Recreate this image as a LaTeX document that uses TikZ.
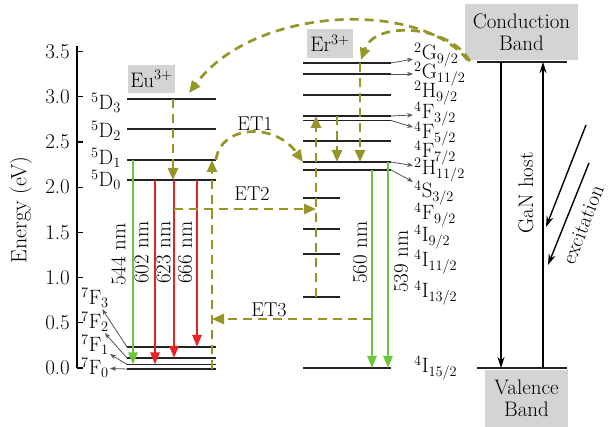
\documentclass[tikz,border=0pt]{standalone}
\usepackage{xcolor}
\usepackage{tikz}
\usetikzlibrary{arrows.meta}
\usetikzlibrary{positioning,calc}
\definecolor{levelblack}{RGB}{35,35,35}
\definecolor{bandgray}{RGB}{212,212,212}
\definecolor{emgreen}{RGB}{106,198,62}
\definecolor{emred}{RGB}{230,34,34}
\definecolor{etolive}{RGB}{150,150,40}
\definecolor{ptrgray}{RGB}{85,85,85}
\tikzset{
  level/.style={draw=levelblack,line width=1.6pt},
  emit/.style={line width=2.4pt,-{Triangle[length=12pt,width=9pt]}},
  etpath/.style={draw=etolive,line width=2.7pt,dash pattern=on 9pt off 6pt,
    -{Triangle[length=12pt,width=10pt]}},
  pointer/.style={draw=ptrgray,line width=0.8pt,-{Stealth[length=6pt,width=4.5pt]}},
  hostarrow/.style={draw=black,line width=1.6pt,-{Stealth[length=11pt,width=7pt]}},
  graybox/.style={fill=bandgray,inner sep=0pt,align=center,
    font=\fontsize{21}{22}\selectfont},
  term/.style={inner sep=1pt,font=\fontsize{20}{22}\selectfont},
  wave/.style={rotate=90,anchor=west,inner sep=0pt,font=\fontsize{21}{22}\selectfont},
  etlabel/.style={font=\fontsize{20}{22}\selectfont},
}

\begin{document}
\begin{tikzpicture}[x=1pt,y=-1pt]
  \useasboundingbox (0,0) rectangle (614,427);
  % energy axis
  \draw[line width=1.2pt] (77,46) -- (77,368);
  \foreach \i/\t in {0/0.0,1/0.5,2/1.0,3/1.5,4/2.0,5/2.5,6/3.0,7/3.5}{
    \draw[line width=1.2pt] (77,368-45.2*\i) -- (83,368-45.2*\i);
    \node[anchor=east,inner sep=0pt,font=\fontsize{21}{22}\selectfont] (tick\i) at (70,368-45.2*\i) {\t};
  }
  \node[rotate=90,font=\fontsize{22}{24}\selectfont] (elabel) at (21,210) {Energy (eV)};

  % Eu3+ levels
  \node[graybox,minimum width=47pt,minimum height=28pt] (eubox) at (151.5,79) {Eu$^{3+}$};
  \foreach \n/\y in {d3/99,d2/129,d1/160,d0/180,f3/347,f2/358,f1/364.5,f0/369}
    \draw[level] (127,\y) coordinate (eu\n) -- (216,\y) coordinate (eur\n);
  \foreach \n/\y/\jv in {d3/103/3,d2/131/2,d1/158/1,d0/180/0}
    \node[term,anchor=east] (eulbl\n) at (122,\y) {$^5\mathrm{D}_{\jv}$};
  \foreach \n/\y/\jv in {f3/298/3,f2/322/2,f1/345/1,f0/368/0}{
    \node[term,anchor=east] (eulbl\n) at (110,\y) {$^7\mathrm{F}_{\jv}$};
    \draw[pointer] (eu\n) -- (eulbl\n);
  }
  % Eu emission
  \draw[emit,emgreen] (133,0 |- eud1) -- (133,0 |- euf1);
  \draw[emit,emred] (155,0 |- eud0) -- (155,0 |- euf1);
  \draw[emit,emred] (174,0 |- eud0) -- (174,0 |- euf2);
  \draw[emit,emred] (197,0 |- eud0) -- (197,0 |- euf3);
  \node[wave] (w544) at (118.5,286) {544 nm};
  \node[wave] (w602) at (141.5,284) {602 nm};
  \node[wave] (w623) at (163.5,284) {623 nm};
  \node[wave] (w666) at (185,284) {666 nm};

  % Er3+ levels
  \node[graybox,minimum width=46pt,minimum height=29pt] (erbox) at (330,43.5) {Er$^{3+}$};
  \foreach \n/\y in {g9/63,g11/74,h9/95,f3/116,f5/120.5,f7/141,h11/162,s3/170,i15/368}
    \draw[level] (303,\y) coordinate (er\n) -- (391,\y) coordinate (err\n);
  \foreach \n/\y in {f9/198,i9/229,i11/254,i13/297}
    \draw[level] (303,\y) coordinate (er\n) -- (340,\y) coordinate (err\n);
  \foreach \n/\y/\mlt/\lsym/\jv in {g9/55/2/G/9,g11/74/2/G/11,h9/93/2/H/9,f3/114/4/F/3,
      f5/134/4/F/5,f7/153/4/F/7,h11/170/2/H/11,s3/193/4/S/3,f9/215/4/F/9,
      i9/237/4/I/9,i11/262/4/I/11,i13/293/4/I/13,i15/368/4/I/15}
    \node[term,anchor=west] (erlbl\n) at (413,\y) {$^{\mlt}\mathrm{\lsym}_{\jv/2}$};
  \foreach \n in {g9,g11,f3,f5,h11,s3}
    \draw[pointer] (err\n) -- (erlbl\n);
  % Er emission
  \draw[emit,emgreen] (372,0 |- ers3) -- (372,0 |- eri15);
  \draw[emit,emgreen] (388,0 |- erh11) -- (388,0 |- eri15);
  \node[wave] (w560) at (360,284) {560 nm};
  \node[wave] (w539) at (401,293) {539 nm};

  % GaN host
  \node[graybox,minimum width=113pt,minimum height=56pt] (cband) at (521.5,32) {Conduction\\Band};
  \node[graybox,minimum width=83pt,minimum height=57pt] (vband) at (526.5,398.5) {Valence\\Band};
  \draw[level] (477,62) coordinate (cbw) -- (567,62) coordinate (cbe);
  \draw[level] (477,368) coordinate (vbw) -- (567,368) coordinate (vbe);
  \draw[hostarrow] (501,0 |- cbw) -- (501,0 |- vbw);
  \draw[hostarrow] (543,0 |- vbw) -- (543,0 |- cbw);
  \node[rotate=90,font=\fontsize{21}{22}\selectfont] (host) at (526,193) {GaN host};
  \coordinate (exa) at (586,125);
  \coordinate (exaend) at (546,227);
  \coordinate (exb) at (589,163);
  \coordinate (exbend) at (548,265);
  \draw[hostarrow,line width=1.4pt] (exa) -- (exaend);
  \draw[hostarrow,line width=1.4pt] (exb) -- (exbend);
  \node[rotate=68.6,font=\fontsize{21}{22}\selectfont] (excit) at (583,225) {excitation};

  % energy transfer
  \coordinate (eutop) at (189,93);
  \coordinate (ertop) at (361,60);
  \draw[etpath] ([xshift=3pt]cband.south west) .. controls (420,0) and (255,5) .. (eutop);
  \draw[etpath] ([xshift=5pt,yshift=-1pt]cband.south west) .. controls (450,25) and (375,20) .. (ertop);
  \draw[etpath] (173,0 |- eud3) -- (173,0 |- eud0);
  \draw[etpath] (360,0 |- erg9) -- (360,0 |- erh11);
  \draw[etpath] (337,0 |- erf3) -- (337,0 |- erh11);
  \draw[etpath] (316,0 |- eri13) -- (316,0 |- erf3);
  \draw[etpath] (212,0 |- euf0) -- (212,0 |- eud1);
  \draw[etpath] (eurd1) .. controls (220,125) and (275,122) .. (erh11);
  \coordinate (et2start) at (174,209);
  \draw[etpath] (et2start) -- (316,0 |- et2start);
  \coordinate (et3start) at (372,319);
  \draw[etpath] (et3start) -- (212,0 |- et3start);
  \node[etlabel] (et1) at (255,124) {ET1};
  \node[etlabel] (et2) at (252,194) {ET2};
  \node[etlabel] (et3) at (269,310) {ET3};
\end{tikzpicture}
\end{document}
